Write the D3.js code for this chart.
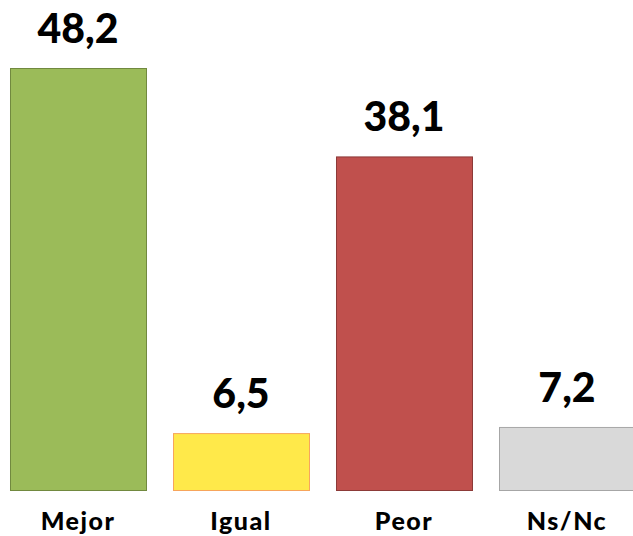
<!DOCTYPE html>
<html>
<head>
<meta charset="utf-8">
<script src="https://cdn.jsdelivr.net/npm/d3@7"></script>
<style>
  body { margin: 0; background: #fff; }
  svg { display: block; }
</style>
</head>
<body>
<div id="chart"></div>
<script>
// chart data
const categories = ["Mejor", "Igual", "Peor", "Ns/Nc"];
const values = [48.2, 6.5, 38.1, 7.2];
const valueLabels = ["48,2", "6,5", "38,1", "7,2"];
const fills = ["#9BBB59", "#FFE94A", "#C0504D", "#D9D9D9"];
const strokes = ["#71893F", "#F7A55C", "#8C3A38", "#A6A6A6"];

const width = 633;
const height = 536;
const baseY = 490;

const svg = d3.select("#chart")
  .append("svg")
  .attr("width", width)
  .attr("height", height);

const x = d3.scaleBand()
  .domain(categories)
  .range([-3.5, 648.5])
  .paddingInner(0.1656)
  .paddingOuter(0.0828);

const y = d3.scaleLinear()
  .domain([0, 48.2])
  .range([baseY, 68]);

// bars
svg.selectAll("rect.bar")
  .data(values)
  .join("rect")
  .attr("class", "bar")
  .attr("x", (d, i) => x(categories[i]) + 0.5)
  .attr("y", d => y(d) + 0.5)
  .attr("width", x.bandwidth())
  .attr("height", d => baseY - y(d))
  .attr("fill", (d, i) => fills[i])
  .attr("stroke", (d, i) => strokes[i])
  .attr("stroke-width", 1);

// value labels
svg.selectAll("text.value")
  .data(values)
  .join("text")
  .attr("class", "value")
  .attr("x", (d, i) => x(categories[i]) + x.bandwidth() / 2)
  .attr("y", d => y(d) - 25)
  .attr("text-anchor", "middle")
  .attr("font-family", "Lato, 'Open Sans', sans-serif")
  .attr("font-weight", 900)
  .attr("font-size", 41)
  .attr("fill", "#000")
  .text((d, i) => valueLabels[i]);

// category labels
svg.selectAll("text.cat")
  .data(categories)
  .join("text")
  .attr("class", "cat")
  .attr("x", d => x(d) + x.bandwidth() / 2)
  .attr("y", 530)
  .attr("text-anchor", "middle")
  .attr("font-family", "Lato, 'Open Sans', sans-serif")
  .attr("font-weight", 900)
  .attr("font-size", 25)
  .attr("letter-spacing", 1.5)
  .attr("fill", "#000")
  .text(d => d);
</script>
</body>
</html>
